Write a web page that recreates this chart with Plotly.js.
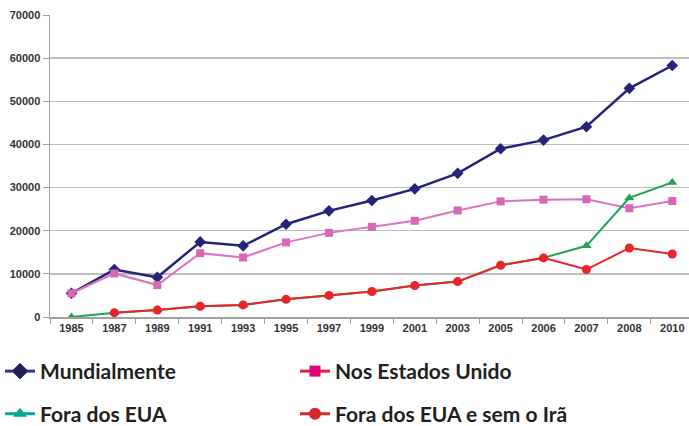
<!DOCTYPE html>
<html>
<head>
<meta charset="utf-8">
<script src="https://cdn.plot.ly/plotly-3.0.1.min.js"></script>
<style>html,body{margin:0;padding:0;background:#fff;}#chart{width:689px;height:426px;}</style>
</head>
<body>
<div id="chart"></div>
<script>
var years = ['1985','1987','1989','1991','1993','1995','1997','1999','2001','2003','2005','2006','2007','2008','2010'];
var mundialmente = [5500, 11000, 9200, 17400, 16500, 21500, 24600, 27000, 29700, 33300, 39000, 41000, 44100, 53000, 58300];
var estadosUnidos = [5500, 10100, 7400, 14800, 13800, 17300, 19500, 20900, 22300, 24700, 26800, 27200, 27300, 25200, 26900];
var foraEUA = [0, 1000, 1600, 2500, 2800, 4100, 5000, 5900, 7300, 8200, 12000, 13700, 16500, 27600, 31200];
var foraSemIra = [null, 1000, 1600, 2500, 2800, 4100, 5000, 5900, 7300, 8200, 12000, 13700, 11000, 16000, 14600];
var legendNames = ['Mundialmente', 'Nos Estados Unido', 'Fora dos EUA', 'Fora dos EUA e sem o Irã'];
var yTicks = [0, 10000, 20000, 30000, 40000, 50000, 60000, 70000];

var traces = [
  {x: years, y: mundialmente, type: 'scatter', mode: 'lines+markers', showlegend: false,
   line: {color: '#24247a', width: 2.5}, marker: {symbol: 'diamond', size: 9, color: '#24247a'}},
  {x: years, y: estadosUnidos, type: 'scatter', mode: 'lines+markers', showlegend: false,
   line: {color: '#dc72c2', width: 2}, marker: {symbol: 'square', size: 8, color: '#d966b6'}},
  {x: years, y: foraEUA, type: 'scatter', mode: 'lines+markers', showlegend: false,
   line: {color: '#1ca552', width: 2}, marker: {symbol: 'triangle-up', size: 9, color: '#1ca552'}},
  {x: years, y: foraSemIra, type: 'scatter', mode: 'lines+markers', showlegend: false, connectgaps: false,
   line: {color: '#ea2428', width: 2}, marker: {symbol: 'circle', size: 9, color: '#ea2428'}},
  // legend-only entries
  {x: [null], y: [null], type: 'scatter', mode: 'lines+markers', name: legendNames[0], legend: 'legend', legendwidth: 250,
   line: {color: '#2e3192', width: 3}, marker: {symbol: 'diamond', size: 12, color: '#221e4a', line: {color: '#2e3192', width: 1}}},
  {x: [null], y: [null], type: 'scatter', mode: 'lines+markers', name: legendNames[1], legend: 'legend',
   line: {color: '#d7263d', width: 3}, marker: {symbol: 'square', size: 11, color: '#e6007e'}},
  {x: [null], y: [null], type: 'scatter', mode: 'lines+markers', name: legendNames[2], legend: 'legend2', legendwidth: 250,
   line: {color: '#00a98f', width: 3}, marker: {symbol: 'triangle-up', size: 12, color: '#00a98f'}},
  {x: [null], y: [null], type: 'scatter', mode: 'lines+markers', name: legendNames[3], legend: 'legend2',
   line: {color: '#d7282f', width: 3}, marker: {symbol: 'circle', size: 12, color: '#d7282f'}}
];

var legFont = {family: 'Lato, sans-serif', size: 21, color: '#231f20', weight: 'bold'};

var layout = {
  width: 689, height: 426,
  margin: {l: 50, r: 0, t: 15, b: 109},
  paper_bgcolor: '#ffffff', plot_bgcolor: '#ffffff',
  xaxis: {
    type: 'category', range: [-0.5, 14.39],
    showgrid: false, zeroline: false,
    showline: true, linecolor: '#a0a0a0', linewidth: 1.5,
    ticks: 'outside', tickson: 'boundaries', ticklen: 5, tickcolor: '#a0a0a0', tickwidth: 1,
    tickfont: {family: 'Arial, Liberation Sans, sans-serif', size: 11, color: '#333333', weight: 'bold'}
  },
  yaxis: {
    range: [0, 70000], tickvals: yTicks, ticktext: yTicks.map(String),
    showgrid: true, gridcolor: '#bdbdbd', gridwidth: 1.5, zeroline: false,
    showline: true, linecolor: '#a0a0a0', linewidth: 1.5,
    ticks: 'outside', ticklen: 6, tickcolor: '#a0a0a0',
    tickfont: {family: 'Arial, Liberation Sans, sans-serif', size: 11, color: '#333333', weight: 'bold'}
  },
  legend: {
    orientation: 'h', xref: 'container', yref: 'container', x: -0.008, y: 0.128, xanchor: 'left', yanchor: 'middle',
    font: legFont, bgcolor: 'rgba(0,0,0,0)', traceorder: 'normal'
  },
  legend2: {
    orientation: 'h', xref: 'container', yref: 'container', x: -0.008, y: 0.028, xanchor: 'left', yanchor: 'middle',
    font: legFont, bgcolor: 'rgba(0,0,0,0)', traceorder: 'normal'
  }
};

Plotly.newPlot('chart', traces, layout, {displayModeBar: false, staticPlot: true});
</script>
</body>
</html>
